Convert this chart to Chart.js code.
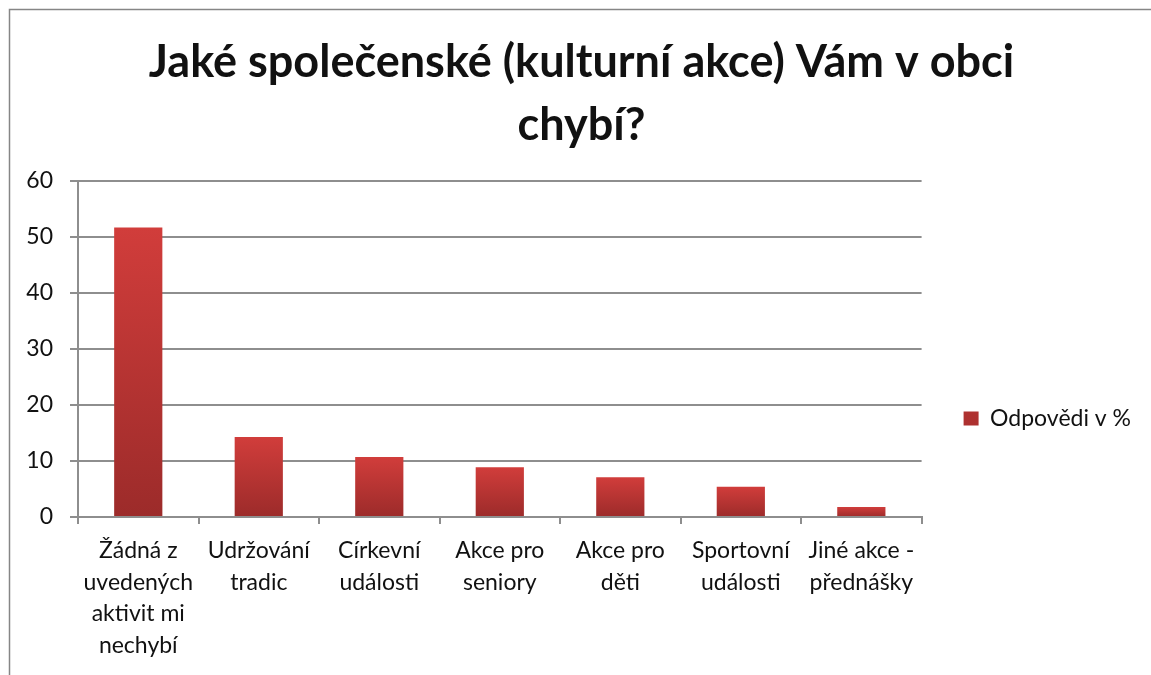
<!DOCTYPE html>
<html>
<head>
<meta charset="utf-8">
<script src="https://cdn.jsdelivr.net/npm/chart.js@4/dist/chart.umd.min.js"></script>
<style>
  html, body { margin: 0; padding: 0; background: #fff; }
  #wrap { width: 1151px; height: 675px; }
</style>
</head>
<body>
<div id="wrap"><canvas id="c" width="1151" height="675"></canvas></div>
<script>
// Data
const titleLines = ['Jaké společenské (kulturní akce) Vám v obci', 'chybí?'];
const categories = [
  ['Žádná z', 'uvedených', 'aktivit mi', 'nechybí'],
  ['Udržování', 'tradic'],
  ['Církevní', 'události'],
  ['Akce pro', 'seniory'],
  ['Akce pro', 'děti'],
  ['Sportovní', 'události'],
  ['Jiné akce -', 'přednášky']
];
const seriesName = 'Odpovědi v %';
const values = [51.7, 14.3, 10.7, 8.9, 7.1, 5.4, 1.8];
const yTicks = [0, 10, 20, 30, 40, 50, 60];

const FONT = 'Lato, Carlito, Calibri, "Noto Sans", sans-serif';
const GRID = '#8e8e8e';
const TEXT = '#111';
const PAD_L = 22;

// Each bar gets its own top-to-base gradient, like the Office fill.
function barFill(ctx) {
  const chart = ctx.chart;
  const y = chart.scales.y;
  if (!chart.chartArea || !y || ctx.raw == null) return '#c2393a';
  const top = y.getPixelForValue(ctx.raw);
  const base = y.getPixelForValue(0);
  const g = chart.ctx.createLinearGradient(0, top, 0, base);
  g.addColorStop(0, '#d13d3b');
  g.addColorStop(1, '#9c2b2a');
  return g;
}

// Outer frame of the chart object (only top and left edges are in view)
const frame = {
  id: 'frame',
  beforeDraw(chart) {
    const c = chart.ctx;
    c.save();
    c.strokeStyle = '#868686';
    c.lineWidth = 1.5;
    c.beginPath();
    c.moveTo(9.5, chart.height);
    c.lineTo(9.5, 9.5);
    c.lineTo(chart.width, 9.5);
    c.stroke();
    c.restore();
  }
};

new Chart(document.getElementById('c'), {
  type: 'bar',
  data: {
    labels: categories,
    datasets: [{
      label: seriesName,
      data: values,
      backgroundColor: barFill,
      borderWidth: 0,
      barPercentage: 0.4,
      categoryPercentage: 1
    }]
  },
  options: {
    responsive: false,
    animation: false,
    layout: { padding: { left: PAD_L, right: 10, top: 0, bottom: 0 } },
    plugins: {
      title: {
        display: true,
        text: titleLines,
        color: TEXT,
        font: { family: FONT, size: 45, weight: 'bold', lineHeight: 1.4 },
        padding: { top: 31, bottom: 24 }
      },
      legend: {
        position: 'right',
        align: 'start',
        // empty legend title used only as a spacer to drop the entry to mid height
        title: { display: true, text: '', padding: { top: 355, bottom: 0 }, font: { size: 10, lineHeight: 1 } },
        labels: {
          color: TEXT,
          font: { family: FONT, size: 23 },
          boxWidth: 15,
          boxHeight: 14,
          padding: 42
        }
      },
      tooltip: { enabled: false }
    },
    scales: {
      x: {
        offset: true,
        afterFit: (s) => { s.height = 158; },
        border: { display: true, color: GRID, width: 2 },
        grid: { offset: true, drawOnChartArea: false, drawTicks: true, tickLength: 7, color: GRID, lineWidth: 2 },
        ticks: {
          color: TEXT,
          font: { family: FONT, size: 23, lineHeight: 1.37 },
          maxRotation: 0,
          autoSkip: false,
          padding: 11
        }
      },
      y: {
        min: 0,
        max: 60,
        afterFit: (s) => { s.width = 78 - PAD_L; },
        afterBuildTicks: (s) => { s.ticks = yTicks.map(v => ({ value: v })); },
        border: { display: true, color: GRID, width: 2 },
        grid: { color: GRID, lineWidth: 2, tickLength: 8 },
        ticks: {
          color: TEXT,
          font: { family: FONT, size: 23 },
          padding: 17
        }
      }
    }
  },
  plugins: [frame]
});
</script>
</body>
</html>
